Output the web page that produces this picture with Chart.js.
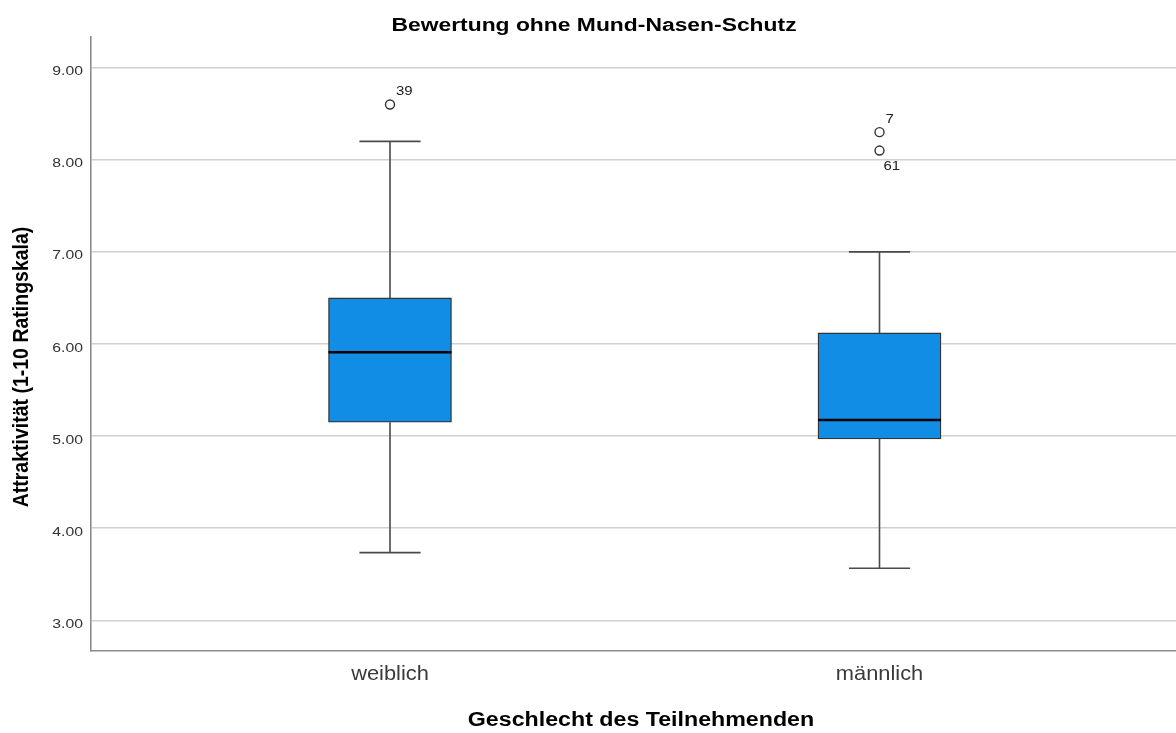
<!DOCTYPE html>
<html>
<head>
<meta charset="utf-8">
<title>Bewertung ohne Mund-Nasen-Schutz</title>
<script src="https://cdn.jsdelivr.net/npm/chart.js@4/dist/chart.umd.min.js"></script>
<style>
  html, body { margin: 0; padding: 0; background: #ffffff; overflow: hidden; }
  #wrap { width: 1176px; height: 733px; position: relative; }
</style>
</head>
<body>
<div id="wrap"><canvas id="chart"></canvas></div>
<script>
// Box plot summary per group
const categories = ['weiblich', 'männlich'];
const q1 = [5.15, 4.97];
const median = [5.91, 5.175];
const q3 = [6.50, 6.12];
const whiskerLow = [3.735, 3.565];
const whiskerHigh = [8.20, 7.00];
const outlierValues = [[8.60], [8.30, 8.10]];
const outlierIds = [['39'], ['7', '61']];
const yTicks = [3, 4, 5, 6, 7, 8, 9];

const chartTitle = 'Bewertung ohne Mund-Nasen-Schutz';
const xTitle = 'Geschlecht des Teilnehmenden';
const yTitle = 'Attraktivität (1-10 Ratingskala)';

const FONT = '"Liberation Sans", Arial, sans-serif';

// Geometry in x-axis units (group i sits at x = i + 1)
const BOX_HALF = 0.1256;
const CAP_HALF = 0.0625;

const xs = categories.map((_, i) => i + 1);

// Whisker stems and caps as broken line segments
const whiskerPts = [];
xs.forEach((x, i) => {
  whiskerPts.push({ x, y: q3[i] }, { x, y: whiskerHigh[i] }, { x: NaN, y: NaN });
  whiskerPts.push({ x: x - CAP_HALF, y: whiskerHigh[i] }, { x: x + CAP_HALF, y: whiskerHigh[i] }, { x: NaN, y: NaN });
  whiskerPts.push({ x, y: q1[i] }, { x, y: whiskerLow[i] }, { x: NaN, y: NaN });
  whiskerPts.push({ x: x - CAP_HALF, y: whiskerLow[i] }, { x: x + CAP_HALF, y: whiskerLow[i] }, { x: NaN, y: NaN });
});

const medianPts = [];
xs.forEach((x, i) => {
  medianPts.push({ x: x - BOX_HALF, y: median[i] }, { x: x + BOX_HALF, y: median[i] }, { x: NaN, y: NaN });
});

const outlierPts = [];
xs.forEach((x, i) => {
  outlierValues[i].forEach((v, j) => outlierPts.push({ x, y: v, id: outlierIds[i][j] }));
});

// Text drawn with a slight horizontal widening, as in the SPSS export
function wideText(ctx, text, x, y, opts) {
  ctx.save();
  ctx.translate(x, y);
  if (opts.rotate) ctx.rotate(opts.rotate);
  ctx.scale(opts.sx || 1, opts.sy || 1);
  ctx.font = opts.font;
  ctx.fillStyle = opts.color || '#000';
  ctx.textAlign = opts.align || 'center';
  ctx.textBaseline = opts.baseline || 'alphabetic';
  ctx.fillText(text, 0, 0);
  ctx.restore();
}

// Tick labels for both axes, placed from the scales
const tickLabels = {
  id: 'tickLabels',
  afterDraw(chart) {
    const ctx = chart.ctx;
    const xScale = chart.scales.x;
    const yScale = chart.scales.y;
    yScale.ticks.forEach(t => {
      const py = yScale.getPixelForValue(t.value);
      wideText(ctx, t.value.toFixed(2), yScale.right - 8, py + 7.5, {
        font: '12.5px ' + FONT, color: '#333', align: 'right', sx: 1.26
      });
    });
    xScale.ticks.forEach(t => {
      const px = xScale.getPixelForValue(t.value);
      wideText(ctx, categories[t.value - 1], px, xScale.top + 29, {
        font: '21px ' + FONT, color: '#3a3a3a', align: 'center', sx: 1.04
      });
    });
  }
};

// Case-number labels next to outliers
const outlierLabels = {
  id: 'outlierLabels',
  afterDatasetsDraw(chart) {
    const meta = chart.getDatasetMeta(3);
    const ctx = chart.ctx;
    const placed = [];
    meta.data.forEach((pt, k) => {
      const d = outlierPts[k];
      const close = placed.some(p => Math.abs(p.x - pt.x) < 1 && Math.abs(p.y - pt.y) < 26);
      const opts = { font: '13px ' + FONT, color: '#222', align: 'left', baseline: 'middle', sx: 1.15 };
      if (close) {
        wideText(ctx, d.id, pt.x + 4, pt.y + 16, opts);
      } else {
        wideText(ctx, d.id, pt.x + 6, pt.y - 13, opts);
      }
      placed.push({ x: pt.x, y: pt.y });
    });
  }
};

// Chart and axis titles
const titles = {
  id: 'titles',
  afterDraw(chart) {
    const ctx = chart.ctx;
    wideText(ctx, chartTitle, 594, 30.5, { font: 'bold 18px ' + FONT, sx: 1.27 });
    wideText(ctx, xTitle, 641, 726, { font: 'bold 20px ' + FONT, sx: 1.16 });
    ctx.save();
    ctx.translate(22, 367);
    ctx.scale(1.1, 1);
    wideText(ctx, yTitle, 0, 0, { font: 'bold 19.5px ' + FONT, rotate: -Math.PI / 2, baseline: 'middle' });
    ctx.restore();
  }
};

new Chart(document.getElementById('chart'), {
  data: {
    datasets: [
      {
        type: 'line',
        label: 'whiskers',
        data: whiskerPts,
        borderColor: '#4a4a4a',
        borderWidth: 1.6,
        pointRadius: 0,
        spanGaps: false,
        order: 3
      },
      {
        type: 'bar',
        label: 'box',
        data: xs.map((x, i) => ({ x, y: [q1[i], q3[i]] })),
        backgroundColor: '#128de6',
        borderColor: '#333333',
        borderWidth: 1.3,
        borderSkipped: false,
        barThickness: 123,
        order: 2
      },
      {
        type: 'line',
        label: 'median',
        data: medianPts,
        borderColor: '#000000',
        borderWidth: 2.6,
        pointRadius: 0,
        spanGaps: false,
        order: 1
      },
      {
        type: 'scatter',
        label: 'outliers',
        data: outlierPts,
        pointStyle: 'circle',
        pointRadius: 4.5,
        pointBorderWidth: 1.4,
        pointBorderColor: '#333333',
        pointBackgroundColor: '#ffffff',
        order: 0
      }
    ]
  },
  options: {
    responsive: true,
    maintainAspectRatio: false,
    animation: false,
    events: [],
    layout: { autoPadding: false, padding: { top: 37, right: 0, bottom: 0, left: 0 } },
    plugins: {
      legend: { display: false },
      title: { display: false },
      tooltip: { enabled: false }
    },
    scales: {
      x: {
        type: 'linear',
        offset: false,
        min: 0.3892,
        max: 2.6057,
        afterBuildTicks(scale) { scale.ticks = xs.map(v => ({ value: v })); },
        afterFit(scale) { scale.height = 82; },
        ticks: { display: false },
        grid: { display: false, drawTicks: false, offset: false },
        border: { display: true, color: '#8c8c8c', width: 1.6 }
      },
      y: {
        type: 'linear',
        min: 2.667,
        max: 9.333,
        afterBuildTicks(scale) { scale.ticks = yTicks.map(v => ({ value: v })); },
        afterFit(scale) { scale.width = 91; },
        ticks: { display: false },
        grid: { color: '#d0d0d0', lineWidth: 1.6, drawTicks: false },
        border: { display: true, color: '#8c8c8c', width: 1.6 }
      }
    }
  },
  plugins: [outlierLabels, tickLabels, titles]
});
</script>
</body>
</html>
